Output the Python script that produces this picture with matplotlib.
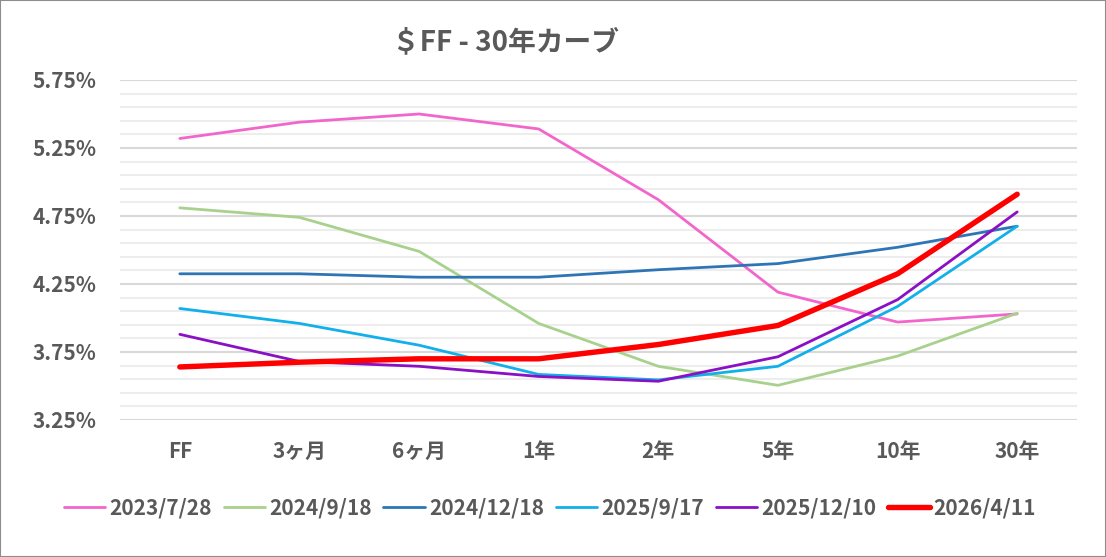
import matplotlib
matplotlib.use('Agg')
import matplotlib.pyplot as plt
import numpy as np
from matplotlib.ticker import FixedLocator, FuncFormatter

plt.rcParams['font.family'] = ['Noto Sans CJK JP', 'DejaVu Sans']

tenors = ['FF', '3ヶ月', '6ヶ月', '1年', '2年', '5年', '10年', '30年']

d20230728 = [5.32, 5.44, 5.50, 5.39, 4.87, 4.19, 3.97, 4.03]
d20240918 = [4.81, 4.74, 4.49, 3.96, 3.645, 3.505, 3.72, 4.035]
d20241218 = [4.325, 4.325, 4.30, 4.30, 4.355, 4.40, 4.52, 4.675]
d20250917 = [4.07, 3.96, 3.80, 3.585, 3.545, 3.645, 4.085, 4.675]
d20251210 = [3.88, 3.68, 3.645, 3.57, 3.535, 3.715, 4.135, 4.78]
d20260411 = [3.64, 3.675, 3.70, 3.70, 3.805, 3.945, 4.325, 4.91]

series = [
    ('2023/7/28', d20230728, '#F266CC', 2.0),
    ('2024/9/18', d20240918, '#A9D18E', 2.0),
    ('2024/12/18', d20241218, '#2E75B6', 2.0),
    ('2025/9/17', d20250917, '#12B0EA', 2.0),
    ('2025/12/10', d20251210, '#8A10C4', 2.0),
    ('2026/4/11', d20260411, '#FF0000', 3.9),
]

fig = plt.figure(figsize=(11.06, 5.57), dpi=100)
fig.patches.append(plt.Rectangle((0, 0), 1, 1, transform=fig.transFigure,
                                 fill=False, edgecolor='#8C8C8C', linewidth=1.5))
ax = fig.add_axes([120 / 1106, 137 / 557, 957 / 1106, 340 / 557])

x = list(range(len(tenors)))
for label, vals, col, lw in series:
    ax.plot(x, vals, color=col, linewidth=lw, label=label, solid_capstyle='round',
            solid_joinstyle='round')

ax.set_xlim(-0.5, len(tenors) - 0.5)
ax.set_ylim(3.25, 5.75)
ax.yaxis.set_major_locator(FixedLocator(np.arange(3.25, 5.76, 0.5)))
ax.yaxis.set_minor_locator(FixedLocator(np.arange(3.25, 5.76, 0.1)))
ax.yaxis.set_major_formatter(FuncFormatter(lambda v, p: f'{v:.2f}%'))
ax.grid(which='minor', axis='y', color='#EDEDED', linewidth=1.5, zorder=0)
ax.grid(which='major', axis='y', color='#D9D9D9', linewidth=1.5, zorder=0)
ax.set_axisbelow(True)
for s in ax.spines.values():
    s.set_visible(False)

ax.set_xticks(x)
ax.set_xticklabels(tenors)
ax.tick_params(axis='both', which='both', length=0, labelcolor='#595959', labelsize=15)
ax.tick_params(axis='x', pad=15)
ax.tick_params(axis='y', pad=17)
for t in ax.get_xticklabels() + ax.get_yticklabels():
    t.set_fontweight('bold')

fig.text(505 / 1106, 1 - 42 / 557, '＄FF - 30年カーブ', ha='center', va='center',
         fontsize=20, fontweight='bold', color='#595959')

leg = ax.legend(loc='center', bbox_to_anchor=(550 / 1106, 1 - 508 / 557),
                bbox_transform=fig.transFigure, ncol=6, frameon=False,
                handlelength=2.0, handletextpad=0.2, columnspacing=0.55,
                prop={'size': 15, 'weight': 'bold'})
for t in leg.get_texts():
    t.set_color('#595959')

fig.savefig('out.png', dpi=100)
